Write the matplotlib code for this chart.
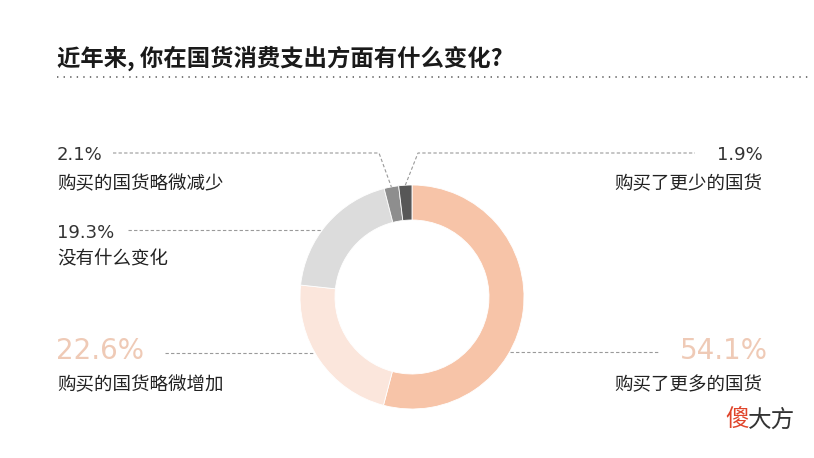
import numpy as np
import matplotlib
matplotlib.use("Agg")
import matplotlib.pyplot as plt

plt.rcParams['font.family'] = ['Noto Sans CJK SC', 'DejaVu Sans']

# data, clockwise from 12 o'clock
labels = ["购买了更多的国货", "购买的国货略微增加", "没有什么变化", "购买的国货略微减少", "购买了更少的国货"]
shares = [54.1, 22.6, 19.3, 2.1, 1.9]
colors = ["#f7c4a8", "#fbe6dc", "#dcdcdc", "#8e8e8e", "#575757"]
title = "近年来, 你在国货消费支出方面有什么变化?"

W, H = 814, 458
cx, cy, R, ring = 412, 297, 112, 35

fig = plt.figure(figsize=(W / 100, H / 100), dpi=100)
ax = fig.add_axes([0, 0, 1, 1])

# y axis is flipped below, so startangle -90 + counterclock == clockwise from top on screen
ax.pie(shares, colors=colors, startangle=-90, counterclock=True,
       center=(cx, cy), radius=R,
       wedgeprops=dict(width=ring, edgecolor="white", linewidth=0.6))
ax.set_xlim(0, W)
ax.set_ylim(H, 0)
ax.axis("off")

# title and dotted rule
ax.text(57, 58, title, fontsize=16.8, fontweight="bold", color="#1a1a1a", va="center", ha="left")
ax.plot([57, 810], [77, 77], color="#555555", lw=1.1, linestyle=(0, (0.9, 3.4)))

# angle (screen, clockwise from top) at the middle of each slice
cum = np.cumsum(shares) / sum(shares) * 360
mid = cum - np.array(shares) / sum(shares) * 180


def edge_point(deg, r=R):
    a = np.radians(deg)
    return cx + r * np.sin(a), cy - r * np.cos(a)


def circle_x(y, side):
    return cx + side * np.sqrt(R ** 2 - (y - cy) ** 2)


lead = dict(color="#9a9a9a", lw=0.8, linestyle=(0, (3, 2)))
num_font = ['DejaVu Sans']
pct_small = dict(fontsize=13, color="#333333", va="center", family=num_font)
pct_big = dict(fontsize=20, color="#efcab6", va="center", family=num_font)
lab = dict(fontsize=13.3, color="#222222", va="center")

# 2.1% (left, top)
px, py = edge_point(mid[3])
ax.plot([113, 379, px], [153, 153, py], **lead)
ax.text(57, 155, f"{shares[3]}%", ha="left", **pct_small)
ax.text(57, 184, labels[3], ha="left", **lab)

# 1.9% (right, top)
px, py = edge_point(mid[4])
ax.plot([px, 418, 695], [py, 153, 153], **lead)
ax.text(763, 155, f"{shares[4]}%", ha="right", **pct_small)
ax.text(762, 184, labels[4], ha="right", **lab)

# 19.3%
ax.plot([128, circle_x(230, -1)], [230, 230], **lead)
ax.text(57, 233, f"{shares[2]}%", ha="left", **pct_small)
ax.text(57, 259, labels[2], ha="left", **lab)

# 22.6%
ax.plot([165, circle_x(353, -1)], [353, 353], **lead)
ax.text(56, 351, f"{shares[1]}%", ha="left", **pct_big)
ax.text(57, 385, labels[1], ha="left", **lab)

# 54.1%
ax.plot([circle_x(352, 1), 658], [352, 352], **lead)
ax.text(768, 351, f"{shares[0]}%", ha="right", **pct_big)
ax.text(762, 385, labels[0], ha="right", **lab)

# brand mark
ax.text(725, 420, "傻", fontsize=17, color="#e0452b", ha="left", va="center")
ax.text(748, 420, "大方", fontsize=17, color="#333333", ha="left", va="center")

fig.savefig("out.png", dpi=100)
